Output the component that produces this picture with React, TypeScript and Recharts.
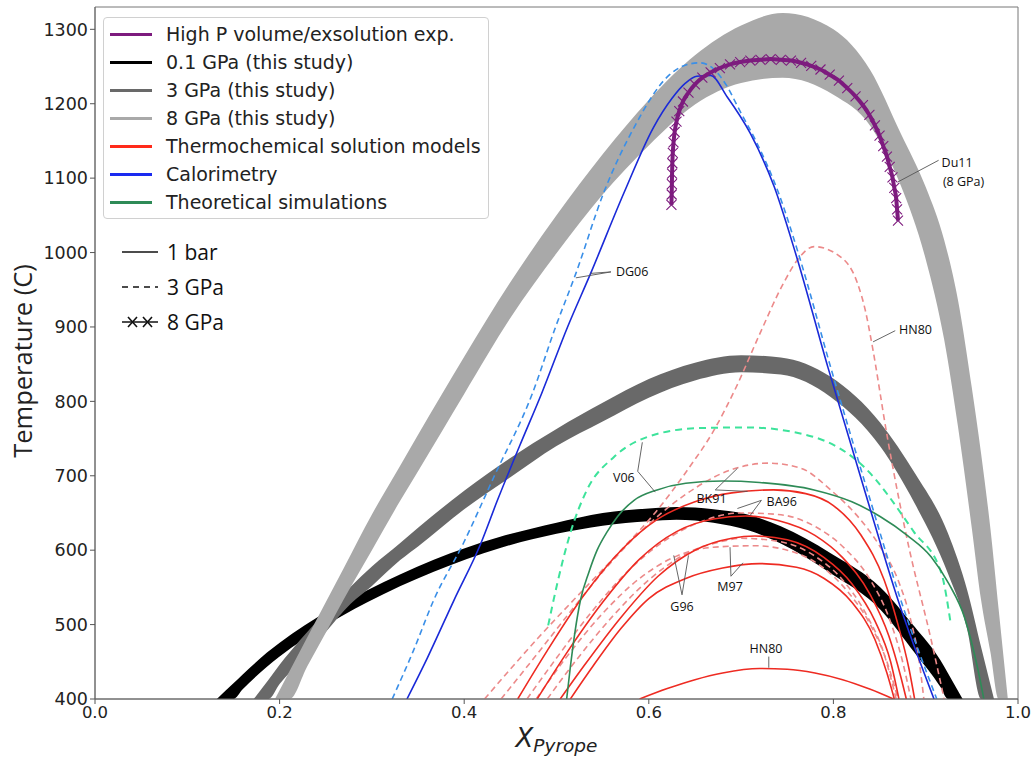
import React from "react";
import {
  ComposedChart,
  Area,
  Line,
  XAxis,
  YAxis,
  ReferenceLine,
  ReferenceDot,
  ReferenceArea,
  Label,
} from "recharts";

type Pt = [number, number];

// ---- bands from this study (x, lower T, upper T) ----
const band01X = [0.132, 0.15, 0.16, 0.186, 0.241, 0.295, 0.367, 0.439, 0.5, 0.55, 0.6, 0.63, 0.67, 0.707, 0.743, 0.797, 0.851, 0.888, 0.916, 0.924, 0.94];
const band01Lo = [400, 400, 413, 443, 492, 530, 571, 603, 622, 633, 639, 641, 637, 627, 609, 569, 520, 462, 416, 400, 400];
const band01Hi = [400, 421, 433, 462, 510, 546, 587, 618, 637, 650, 656, 658, 655, 648, 632, 596, 550, 497, 452, 435, 400];

const band3X = [0.172, 0.188, 0.2, 0.222, 0.25, 0.277, 0.3, 0.331, 0.35, 0.4, 0.45, 0.5, 0.55, 0.6, 0.65, 0.7, 0.743, 0.797, 0.851, 0.888, 0.924, 0.945, 0.96, 0.974];
const band3Lo = [400, 400, 420, 450, 490, 528, 552, 587, 605, 655, 698, 740, 773, 805, 828, 839, 836, 806, 739, 663, 569, 493, 400, 400];
const band3Hi = [400, 426, 446, 479, 517, 551, 578, 610, 630, 680, 724, 763, 798, 830, 852, 862, 859, 833, 771, 704, 623, 546, 470, 400];

const band8X = [0.195, 0.211, 0.23, 0.25, 0.27, 0.3, 0.33, 0.35, 0.4, 0.45, 0.5, 0.55, 0.6, 0.65, 0.7, 0.745, 0.8, 0.84, 0.873, 0.9, 0.92, 0.935, 0.95, 0.96, 0.97, 0.979, 0.989];
const band8Lo = [400, 400, 444, 489, 535, 600, 665, 706, 810, 912, 999, 1078, 1144, 1199, 1228, 1235, 1212, 1170, 1090, 991, 883, 766, 629, 533, 464, 400, 400];
const band8Hi = [400, 438, 483, 530, 577, 648, 712, 755, 860, 960, 1050, 1132, 1205, 1265, 1305, 1322, 1300, 1245, 1160, 1088, 1017, 936, 818, 730, 630, 521, 400];

// ---- high P volume / exsolution experiment (Du11, 8 GPa) ----
const du11: Pt[] = [
  [0.6245, 1064], [0.6248, 1078], [0.625, 1092], [0.6252, 1106], [0.6255, 1120], [0.626, 1134],
  [0.6268, 1148], [0.628, 1162], [0.63, 1176], [0.633, 1190], [0.637, 1203], [0.643, 1215],
  [0.65, 1226], [0.658, 1235], [0.667, 1242], [0.677, 1248], [0.688, 1253], [0.699, 1256],
  [0.71, 1258], [0.721, 1259], [0.732, 1260], [0.743, 1259], [0.754, 1258], [0.765, 1255],
  [0.776, 1251], [0.786, 1246], [0.796, 1239], [0.806, 1231], [0.815, 1221], [0.824, 1210],
  [0.832, 1198], [0.839, 1185], [0.845, 1171], [0.85, 1157], [0.854, 1143], [0.858, 1129],
  [0.861, 1115], [0.864, 1101], [0.866, 1087], [0.868, 1073], [0.869, 1058], [0.87, 1043],
];

// ---- calorimetry (DG06) ----
const dg06_1bar: Pt[] = [
  [0.338, 400], [0.36, 455], [0.389, 533], [0.418, 609], [0.436, 667], [0.46, 740], [0.484, 811],
  [0.512, 900], [0.537, 972], [0.573, 1080], [0.605, 1168], [0.625, 1207], [0.64, 1228],
  [0.652, 1237], [0.667, 1238], [0.685, 1209], [0.71, 1160], [0.736, 1088], [0.759, 999],
  [0.794, 846], [0.837, 667], [0.87, 533], [0.909, 400],
];
const dg06_3gpa: Pt[] = [
  [0.322, 400], [0.345, 465], [0.367, 533], [0.399, 609], [0.432, 698], [0.474, 811], [0.499, 900],
  [0.521, 972], [0.551, 1080], [0.584, 1168], [0.62, 1236], [0.64, 1252], [0.655, 1255],
  [0.67, 1247], [0.684, 1225], [0.698, 1192], [0.716, 1150], [0.74, 1082], [0.763, 995],
  [0.797, 846], [0.84, 667], [0.873, 533], [0.912, 400],
];

// ---- theoretical simulations (V06) ----
const v06_1bar: Pt[] = [
  [0.511, 400], [0.515, 443], [0.52, 490], [0.526, 533], [0.535, 570], [0.544, 600], [0.555, 625],
  [0.566, 645], [0.584, 667], [0.609, 681], [0.64, 690], [0.68, 693], [0.72, 691], [0.779, 681],
  [0.82, 665], [0.851, 645], [0.88, 620], [0.906, 591], [0.925, 555], [0.942, 510], [0.956, 443],
  [0.963, 400],
];
const v06_3gpa: Pt[] = [
  [0.491, 499], [0.501, 556], [0.515, 623], [0.533, 681], [0.562, 725], [0.598, 752], [0.653, 764],
  [0.707, 765], [0.779, 752], [0.833, 712], [0.887, 625], [0.917, 569], [0.927, 502],
];

// ---- thermochemical solution models, 1 bar ----
const ba96_1bar: Pt[] = [
  [0.458, 400], [0.49, 465], [0.53, 540], [0.57, 600], [0.61, 642], [0.65, 665], [0.69, 677],
  [0.735, 681], [0.77, 676], [0.8, 660], [0.83, 620], [0.855, 560], [0.87, 500], [0.882, 440], [0.888, 400],
];
const bk91_1bar: Pt[] = [
  [0.479, 400], [0.51, 460], [0.55, 530], [0.59, 588], [0.63, 625], [0.67, 642], [0.705, 646],
  [0.74, 640], [0.78, 620], [0.81, 590], [0.84, 540], [0.86, 485], [0.873, 430], [0.879, 400],
];
const g96_1bar: Pt[] = [
  [0.504, 400], [0.53, 445], [0.57, 510], [0.61, 565], [0.65, 600], [0.69, 616], [0.715, 619],
  [0.75, 614], [0.79, 590], [0.82, 555], [0.845, 505], [0.862, 450], [0.871, 400],
];
const m97_1bar: Pt[] = [
  [0.515, 400], [0.54, 445], [0.57, 495], [0.6, 535], [0.64, 562], [0.68, 576], [0.72, 582],
  [0.76, 577], [0.79, 562], [0.82, 530], [0.845, 480], [0.858, 435], [0.866, 400],
];
const hn80_1bar: Pt[] = [
  [0.59, 400], [0.62, 414], [0.65, 426], [0.68, 435], [0.72, 441], [0.75, 440], [0.78, 435],
  [0.81, 426], [0.84, 413], [0.865, 400],
];

// ---- thermochemical solution models, 3 GPa ----
const hn80_3gpa: Pt[] = [
  [0.422, 400], [0.48, 482], [0.53, 548], [0.57, 600], [0.61, 655], [0.642, 708], [0.67, 760],
  [0.695, 820], [0.72, 890], [0.746, 959], [0.761, 990], [0.779, 1008], [0.808, 994],
  [0.826, 959], [0.835, 920], [0.841, 882], [0.859, 748], [0.88, 614], [0.906, 479], [0.92, 400],
];
const bk91_3gpa: Pt[] = [
  [0.44, 400], [0.48, 462], [0.52, 525], [0.56, 585], [0.6, 635], [0.64, 675], [0.689, 708],
  [0.729, 717], [0.765, 710], [0.797, 681], [0.83, 640], [0.851, 604], [0.87, 560], [0.884, 505],
  [0.893, 450], [0.898, 400],
];
const ba96_3gpa: Pt[] = [
  [0.468, 400], [0.5, 455], [0.54, 520], [0.58, 575], [0.62, 615], [0.66, 640], [0.7, 650],
  [0.74, 648], [0.78, 632], [0.81, 605], [0.84, 560], [0.86, 510], [0.875, 450], [0.884, 400],
];
const g96_3gpa: Pt[] = [
  [0.49, 400], [0.52, 450], [0.56, 510], [0.6, 560], [0.64, 595], [0.68, 612], [0.7, 616],
  [0.74, 612], [0.78, 592], [0.81, 560], [0.835, 515], [0.855, 460], [0.868, 400],
];
const m97_3gpa: Pt[] = [
  [0.478, 400], [0.51, 455], [0.55, 515], [0.59, 562], [0.63, 592], [0.67, 604], [0.714, 606],
  [0.75, 600], [0.785, 580], [0.815, 545], [0.84, 500], [0.858, 450], [0.87, 400],
];

const redSolid = [ba96_1bar, bk91_1bar, g96_1bar, m97_1bar, hn80_1bar];
const redDashed = [hn80_3gpa, bk91_3gpa, ba96_3gpa, g96_3gpa, m97_3gpa];

// ---- annotations: label centres and leader lines ----
const labels: { text: string; x: number; t: number }[] = [
  { text: "DG06", x: 0.582, t: 974 },
  { text: "Du11", x: 0.934, t: 1121 },
  { text: "(8 GPa)", x: 0.941, t: 1096 },
  { text: "HN80", x: 0.889, t: 896 },
  { text: "V06", x: 0.573, t: 698 },
  { text: "BK91", x: 0.668, t: 670 },
  { text: "BA96", x: 0.744, t: 665 },
  { text: "G96", x: 0.636, t: 524 },
  { text: "M97", x: 0.688, t: 551 },
  { text: "HN80", x: 0.727, t: 468 },
];
const leaders: [Pt, Pt][] = [
  [[0.559, 974], [0.537, 972]],
  [[0.559, 974], [0.521, 966]],
  [[0.914, 1124], [0.87, 1095]],
  [[0.867, 895], [0.843, 880]],
  [[0.588, 706], [0.593, 745]],
  [[0.588, 706], [0.607, 678]],
  [[0.672, 681], [0.696, 710]],
  [[0.672, 681], [0.707, 679]],
  [[0.722, 667], [0.696, 656]],
  [[0.722, 667], [0.71, 647]],
  [[0.636, 540], [0.627, 593]],
  [[0.636, 540], [0.643, 593]],
  [[0.689, 565], [0.688, 604]],
  [[0.689, 565], [0.702, 583]],
  [[0.73, 457], [0.73, 442]],
];

const xTicks = [0, 0.2, 0.4, 0.6, 0.8, 1.0];
const yTicks = [400, 500, 600, 700, 800, 900, 1000, 1100, 1200, 1300];

const legendItems = [
  { label: "High P volume/exsolution exp.", color: "#7d1b7e" },
  { label: "0.1 GPa (this study)", color: "#000000" },
  { label: "3 GPa (this study)", color: "#696969" },
  { label: "8 GPa (this study)", color: "#a9a9a9" },
  { label: "Thermochemical solution models", color: "#ff2a1a" },
  { label: "Calorimetry", color: "#1a2af0" },
  { label: "Theoretical simulations", color: "#2e8b57" },
];
const pressureItems = ["1 bar", "3 GPa", "8 GPa"];

const toBand = (xs: number[], lo: number[], hi: number[]) =>
  xs.map((x, i) => ({ x, r: [lo[i], hi[i]] }));
const toLine = (pts: Pt[]) => pts.map(([x, t]) => ({ x, t }));

const XMark = (props: any) => {
  const { cx, cy, index } = props;
  if (cx == null || cy == null) return <g key={index} />;
  const s = 5;
  return (
    <path
      key={index}
      d={`M${cx - s},${cy - s}L${cx + s},${cy + s}M${cx - s},${cy + s}L${cx + s},${cy - s}`}
      stroke="#7d1b7e"
      strokeWidth={1.1}
      fill="none"
    />
  );
};

const XAxisTitle = (props: any) => {
  const { viewBox } = props;
  const cx = viewBox.x + viewBox.width / 2;
  return (
    <text x={cx} y={747} textAnchor="middle" fill="#222" fontFamily="DejaVu Sans" fontStyle="italic">
      <tspan fontSize={26}>X</tspan>
      <tspan fontSize={18.5} dy={5}>Pyrope</tspan>
    </text>
  );
};

const YAxisTitle = (props: any) => {
  const { viewBox } = props;
  const cy = viewBox.y + viewBox.height / 2 + 8;
  return (
    <text
      x={22}
      y={cy}
      transform={`rotate(-90, 22, ${cy})`}
      textAnchor="middle"
      dominantBaseline="central"
      fill="#222"
      fontFamily="Open Sans"
      fontSize={25.5}
    >
      Temperature (C)
    </text>
  );
};

const textFont = { fontFamily: "'Open Sans', sans-serif", fontSize: 12.5, fill: "#111" };

export default function App() {
  return (
    <div style={{ position: "absolute", left: 0, top: 0, width: 1034, height: 759, background: "#fff" }}>
      <ComposedChart width={1034} height={759} margin={{ top: 7, right: 16, bottom: 0, left: 0 }}>
        <XAxis
          type="number"
          dataKey="x"
          domain={[0, 1]}
          ticks={xTicks}
          allowDataOverflow
          height={60}
          tickFormatter={(v: number) => v.toFixed(1)}
          tick={{ fill: "#222", fontSize: 16.5, fontFamily: "DejaVu Sans" }}
          tickSize={5}
          tickLine={{ stroke: "#555" }}
          axisLine={{ stroke: "#666" }}
          label={<Label content={XAxisTitle} />}
        />
        <YAxis
          type="number"
          domain={[400, 1330]}
          ticks={yTicks}
          allowDataOverflow
          width={95}
          tick={{ fill: "#222", fontSize: 17.5, fontFamily: "DejaVu Sans" }}
          tickSize={5}
          tickLine={{ stroke: "#555" }}
          axisLine={{ stroke: "#666" }}
          label={<Label content={YAxisTitle} />}
        />
        <ReferenceArea x1={0} x2={1} y1={400} y2={1330} fill="none" stroke="#777" strokeWidth={1} />

        <Area data={toBand(band01X, band01Lo, band01Hi)} dataKey="r" type="monotone" stroke="none" fill="#000" fillOpacity={1} isAnimationActive={false} />
        <Area data={toBand(band3X, band3Lo, band3Hi)} dataKey="r" type="monotone" stroke="none" fill="#696969" fillOpacity={1} isAnimationActive={false} />
        <Area data={toBand(band8X, band8Lo, band8Hi)} dataKey="r" type="monotone" stroke="none" fill="#a9a9a9" fillOpacity={1} isAnimationActive={false} />

        {redDashed.map((pts, i) => (
          <Line key={`rd${i}`} data={toLine(pts)} dataKey="t" type="monotone" stroke="#ec8a8a" strokeWidth={1.6} strokeDasharray="6 4" dot={false} activeDot={false} isAnimationActive={false} />
        ))}
        {redSolid.map((pts, i) => (
          <Line key={`rs${i}`} data={toLine(pts)} dataKey="t" type="monotone" stroke="#ee2b22" strokeWidth={1.6} dot={false} activeDot={false} isAnimationActive={false} />
        ))}
        <Line data={toLine(v06_3gpa)} dataKey="t" type="monotone" stroke="#3de39b" strokeWidth={2} strokeDasharray="7 5" dot={false} activeDot={false} isAnimationActive={false} />
        <Line data={toLine(v06_1bar)} dataKey="t" type="monotone" stroke="#2e8b57" strokeWidth={1.6} dot={false} activeDot={false} isAnimationActive={false} />
        <Line data={toLine(dg06_3gpa)} dataKey="t" type="monotone" stroke="#3a8fe8" strokeWidth={1.6} strokeDasharray="6 4" dot={false} activeDot={false} isAnimationActive={false} />
        <Line data={toLine(dg06_1bar)} dataKey="t" type="monotone" stroke="#1a2ad8" strokeWidth={1.6} dot={false} activeDot={false} isAnimationActive={false} />
        <Line data={toLine(du11)} dataKey="t" type="monotone" stroke="#7d1b7e" strokeWidth={4} dot={XMark} activeDot={false} isAnimationActive={false} />

        {leaders.map(([a, b], i) => (
          <ReferenceLine key={`ld${i}`} segment={[{ x: a[0], y: a[1] }, { x: b[0], y: b[1] }]} stroke="#555" strokeWidth={0.9} />
        ))}
        {labels.map((l, i) => (
          <ReferenceDot
            key={`lb${i}`}
            x={l.x}
            y={l.t}
            r={0}
            fill="none"
            stroke="none"
            label={{ value: l.text, position: "center", ...textFont }}
          />
        ))}
      </ComposedChart>

      <div
        style={{
          position: "absolute",
          left: 103,
          top: 17,
          width: 384,
          height: 200,
          border: "1px solid #d0d0d0",
          borderRadius: 4,
          background: "rgba(255,255,255,0.85)",
          fontFamily: "'DejaVu Sans', sans-serif",
          fontSize: 19,
          color: "#222",
        }}
      >
        {legendItems.map((it, i) => (
          <div key={it.label} style={{ position: "absolute", left: 0, top: 2 + i * 28, height: 28, display: "flex", alignItems: "center", whiteSpace: "nowrap" }}>
            <div style={{ width: 42, height: 3, background: it.color, marginLeft: 6, marginRight: 14 }} />
            <span>{it.label}</span>
          </div>
        ))}
      </div>

      <div style={{ position: "absolute", left: 118, top: 236, fontFamily: "'Open Sans', sans-serif", fontSize: 21, color: "#111" }}>
        {pressureItems.map((p, i) => (
          <div key={p} style={{ position: "absolute", left: 0, top: i * 35, height: 32, display: "flex", alignItems: "center", whiteSpace: "nowrap" }}>
            <svg width={44} height={16} style={{ marginRight: 5 }}>
              {i === 0 && <line x1={4} y1={8} x2={40} y2={8} stroke="#111" strokeWidth={1.5} />}
              {i === 1 && <line x1={4} y1={8} x2={40} y2={8} stroke="#111" strokeWidth={1.5} strokeDasharray="6 5" />}
              {i === 2 && (
                <g stroke="#111" strokeWidth={1.6}>
                  <line x1={4} y1={8} x2={40} y2={8} />
                  <path d="M10,3L19,13M10,13L19,3M25,3L34,13M25,13L34,3" />
                </g>
              )}
            </svg>
            <span>{p}</span>
          </div>
        ))}
      </div>
    </div>
  );
}
